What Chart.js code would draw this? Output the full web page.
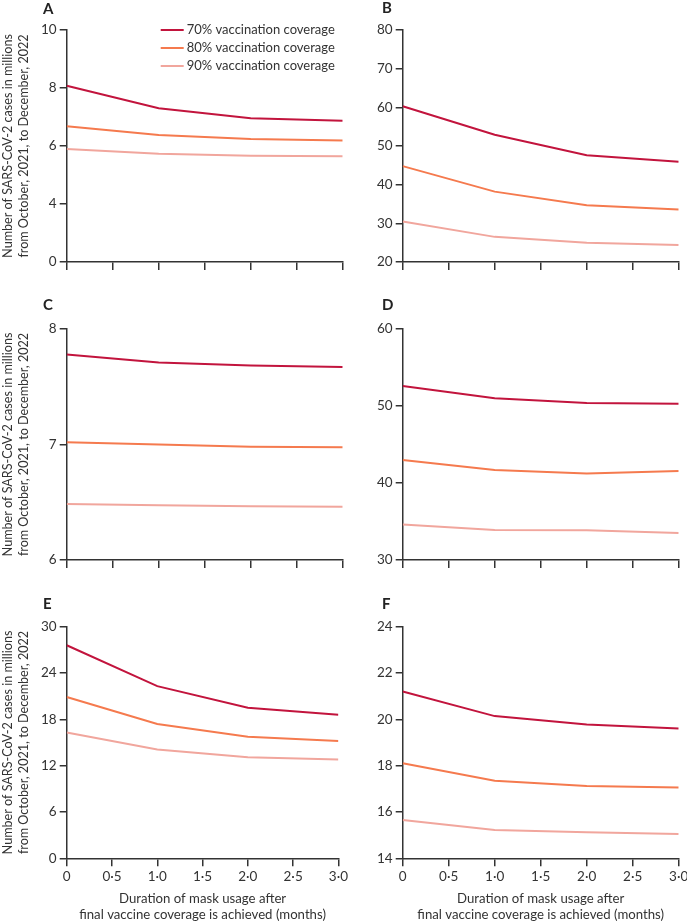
<!DOCTYPE html>
<html>
<head>
<meta charset="utf-8">
<script src="https://cdn.jsdelivr.net/npm/chart.js@4.4.1/dist/chart.umd.min.js"></script>
<style>
  html, body { margin: 0; padding: 0; background: #fff; width: 687px; height: 923px; overflow: hidden; }
  body { position: relative; }
  canvas { position: absolute; }
</style>
</head>
<body>
<canvas id="cA" width="350" height="280" style="left:0;top:0"></canvas>
<canvas id="cB" width="352" height="280" style="left:345px;top:0"></canvas>
<canvas id="cC" width="350" height="285" style="left:0;top:290px"></canvas>
<canvas id="cD" width="352" height="285" style="left:345px;top:290px"></canvas>
<canvas id="cE" width="350" height="333" style="left:0;top:590px"></canvas>
<canvas id="cF" width="352" height="333" style="left:345px;top:590px"></canvas>
<script>
// mask duration after final coverage (months)
const months = [0, 1, 2, 3];
const coverageLabels = ['70% vaccination coverage', '80% vaccination coverage', '90% vaccination coverage'];
const coverageColors = ['#c2143d', '#f57a4e', '#f1a69d'];

// cases in millions, per panel, per coverage level
const a70 = [8.08, 7.30, 6.96, 6.87];
const a80 = [6.68, 6.38, 6.24, 6.19];
const a90 = [5.90, 5.73, 5.66, 5.65];

const b70 = [60.3, 52.9, 47.6, 45.9];
const b80 = [44.8, 38.2, 34.7, 33.6];
const b90 = [30.5, 26.5, 25.0, 24.4];

const c70 = [7.78, 7.71, 7.685, 7.67];
const c80 = [7.02, 7.00, 6.98, 6.977];
const c90 = [6.485, 6.474, 6.465, 6.462];

const d70 = [52.6, 51.0, 50.4, 50.3];
const d80 = [43.0, 41.7, 41.25, 41.55];
const d90 = [34.6, 33.9, 33.85, 33.5];

const e70 = [27.6, 22.3, 19.5, 18.6];
const e80 = [20.9, 17.4, 15.75, 15.2];
const e90 = [16.3, 14.1, 13.1, 12.8];

const f70 = [21.2, 20.14, 19.78, 19.6];
const f80 = [18.1, 17.35, 17.12, 17.06];
const f90 = [15.65, 15.22, 15.12, 15.05];

const yTitle = ['Number of SARS-CoV-2 cases in millions', 'from October, 2021, to December, 2022'];
const xTitle = ['Duration of mask usage after', 'final vaccine coverage is achieved (months)'];

const FONT = 'Lato, "Noto Sans", sans-serif';
const INK = '#333';

const panelLetter = {
  id: 'panelLetter',
  afterDraw(chart, args, opts) {
    const ctx = chart.ctx;
    ctx.save();
    ctx.font = 'bold 15px ' + FONT;
    ctx.fillStyle = '#222';
    ctx.textBaseline = 'middle';
    ctx.fillText(opts.text, opts.x, opts.y);
    ctx.restore();
  }
};

const lineLegend = {
  id: 'lineLegend',
  afterDraw(chart, args, opts) {
    if (!opts.show) return;
    const ctx = chart.ctx;
    ctx.save();
    ctx.font = '13px ' + FONT;
    ctx.textBaseline = 'middle';
    chart.data.datasets.forEach((ds, i) => {
      const y = opts.y + i * 18;
      ctx.strokeStyle = ds.borderColor;
      ctx.lineWidth = 2;
      ctx.beginPath();
      ctx.moveTo(opts.x, y);
      ctx.lineTo(opts.x + 23, y);
      ctx.stroke();
      ctx.fillStyle = INK;
      ctx.fillText(ds.label, opts.x + 26, y);
    });
    ctx.restore();
  }
};

function makePanel(id, s70, s80, s90, o) {
  const series = [s70, s80, s90];
  new Chart(document.getElementById(id), {
    type: 'line',
    data: {
      datasets: series.map((vals, i) => ({
        label: coverageLabels[i],
        data: months.map((m, j) => ({ x: m, y: vals[j] })),
        borderColor: coverageColors[i],
        borderWidth: 2,
        pointRadius: 0,
        tension: 0
      }))
    },
    options: {
      responsive: false,
      animation: false,
      layout: { padding: { top: o.top, right: o.right, left: 0, bottom: 0 } },
      plugins: {
        legend: { display: false },
        tooltip: { enabled: false },
        panelLetter: { text: o.letter, x: o.letterX, y: o.letterY },
        lineLegend: { show: !!o.legend, x: 160.7, y: 30 }
      },
      scales: {
        x: {
          type: 'linear',
          min: 0, max: 3,
          afterFit: s => { s.height = o.xHeight; },
          border: { display: true, color: INK, width: 1.5 },
          grid: { drawOnChartArea: false, drawTicks: true, tickLength: 8, color: INK, lineWidth: 1.5 },
          ticks: {
            stepSize: 0.5,
            padding: 2,
            maxRotation: 0,
            color: INK,
            font: { family: FONT, size: 13.5 },
            callback: v => o.xLabels ? (v === 0 ? '0' : v.toFixed(1).replace('.', '\u00b7')) : ''
          },
          title: {
            display: !!o.xLabels,
            text: xTitle,
            color: INK,
            font: { family: FONT, size: 13.2, lineHeight: 1.25 },
            padding: { top: 4, bottom: 0 }
          }
        },
        y: {
          min: o.min, max: o.max,
          afterFit: s => { s.width = o.yWidth; },
          border: { display: true, color: INK, width: 1.5 },
          grid: { drawOnChartArea: false, drawTicks: true, tickLength: 7, color: INK, lineWidth: 1.5 },
          ticks: {
            stepSize: o.step,
            padding: 3,
            color: INK,
            font: { family: FONT, size: 13.5 },
            callback: o.yLabel || (v => v)
          },
          title: {
            display: !!o.yTitle,
            text: yTitle,
            color: INK,
            font: { family: FONT, size: 12.6, lineHeight: 1.28 },
            padding: { top: 0, bottom: 0 }
          }
        }
      }
    },
    plugins: [panelLetter, lineLegend]
  });
}

const leftCol = { right: 7.3, yWidth: 66.7, letterX: 43, yTitle: true };
const rightCol = { right: 18.3, yWidth: 57.7, letterX: 37 };

makePanel('cA', a70, a80, a90, Object.assign({}, leftCol, {
  top: 30, xHeight: 18, letter: 'A', letterY: 9, legend: true,
  min: 2, max: 10, step: 2, yLabel: v => (v === 2 ? '0' : v)
}));
makePanel('cB', b70, b80, b90, Object.assign({}, rightCol, {
  top: 30, xHeight: 18, letter: 'B', letterY: 8, min: 20, max: 80, step: 10
}));
makePanel('cC', c70, c80, c90, Object.assign({}, leftCol, {
  top: 39, xHeight: 15, letter: 'C', letterY: 15, min: 6, max: 8, step: 1
}));
makePanel('cD', d70, d80, d90, Object.assign({}, rightCol, {
  top: 39, xHeight: 15, letter: 'D', letterY: 15, min: 30, max: 60, step: 10
}));
makePanel('cE', e70, e80, e90, Object.assign({}, leftCol, {
  top: 36.7, xHeight: 64.7, letter: 'E', letterY: 14, xLabels: true, min: 0, max: 30, step: 6
}));
makePanel('cF', f70, f80, f90, Object.assign({}, rightCol, {
  top: 36.7, xHeight: 64.7, letter: 'F', letterY: 14, xLabels: true, min: 14, max: 24, step: 2
}));
</script>
</body>
</html>
